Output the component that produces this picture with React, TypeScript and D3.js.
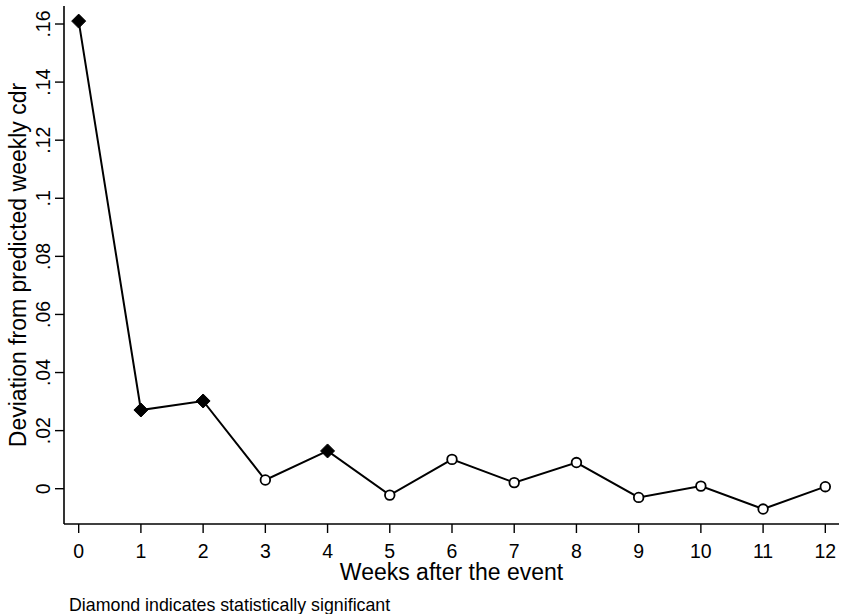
import React from "react";
import * as d3 from "d3";

const weeks = [0, 1, 2, 3, 4, 5, 6, 7, 8, 9, 10, 11, 12];
const deviation = [0.161, 0.0271, 0.0302, 0.003, 0.013, -0.0022, 0.0101, 0.0021, 0.009, -0.003, 0.0009, -0.007, 0.0007];
const significant = [true, true, true, false, true, false, false, false, false, false, false, false, false];
const yTicks = [0, 0.02, 0.04, 0.06, 0.08, 0.1, 0.12, 0.14, 0.16];
const yTickLabels = ["0", ".02", ".04", ".06", ".08", ".1", ".12", ".14", ".16"];

const W = 841;
const H = 614;
const left = 64;
const right = 839;
const top = 6;
const bottom = 524;

export default function App() {
  const x = d3.scaleLinear().domain([-0.236, 12.22]).range([left, right]);
  const y = d3.scaleLinear().domain([-0.01215, 0.1662]).range([bottom, top]);
  const pts = weeks.map((w, i) => ({ w, v: deviation[i], s: significant[i] }));
  const line = d3.line<{ w: number; v: number }>().x((d) => x(d.w)).y((d) => y(d.v));
  const font = "'Liberation Sans', Arial, sans-serif";
  const diamond = (cx: number, cy: number, r: number) =>
    `M${cx},${cy - r}L${cx + r},${cy}L${cx},${cy + r}L${cx - r},${cy}Z`;
  return (
    <svg width={W} height={H} style={{ position: "absolute", left: 0, top: 0, background: "#fff" }} fontFamily={font}>
      <rect x={0} y={0} width={W} height={H} fill="#fff" />
      <line x1={left} x2={left} y1={top} y2={bottom} stroke="#000" strokeWidth={1.6} />
      <line x1={left} x2={right} y1={bottom} y2={bottom} stroke="#000" strokeWidth={1.6} />
      {yTicks.map((t, i) => (
        <g key={"y" + i}>
          <line x1={left - 9} x2={left} y1={y(t)} y2={y(t)} stroke="#000" strokeWidth={1.4} />
          <text
            transform={`translate(${left - 14},${y(t)}) rotate(-90)`}
            textAnchor="middle"
            fontSize={19.5}
            fill="#000"
          >
            {yTickLabels[i]}
          </text>
        </g>
      ))}
      {weeks.map((w) => (
        <g key={"x" + w}>
          <line x1={x(w)} x2={x(w)} y1={bottom} y2={bottom + 9} stroke="#000" strokeWidth={1.4} />
          <text x={x(w)} y={bottom + 34} textAnchor="middle" fontSize={19.5} fill="#000">
            {w}
          </text>
        </g>
      ))}
      <text x={(left + right) / 2} y={580} textAnchor="middle" fontSize={23} fill="#000">
        Weeks after the event
      </text>
      <text transform={`translate(26,${(top + bottom) / 2}) rotate(-90)`} textAnchor="middle" fontSize={23} fill="#000">
        Deviation from predicted weekly cdr
      </text>
      <text x={69} y={611} fontSize={17.8} fill="#000">
        Diamond indicates statistically significant
      </text>
      <path d={line(pts) || ""} fill="none" stroke="#000" strokeWidth={2} />
      {pts.map((p, i) =>
        p.s ? (
          <path key={"m" + i} d={diamond(x(p.w), y(p.v), 7)} fill="#000" stroke="#000" strokeWidth={1} />
        ) : (
          <circle key={"m" + i} cx={x(p.w)} cy={y(p.v)} r={4.8} fill="#fff" stroke="#000" strokeWidth={1.8} />
        )
      )}
    </svg>
  );
}
